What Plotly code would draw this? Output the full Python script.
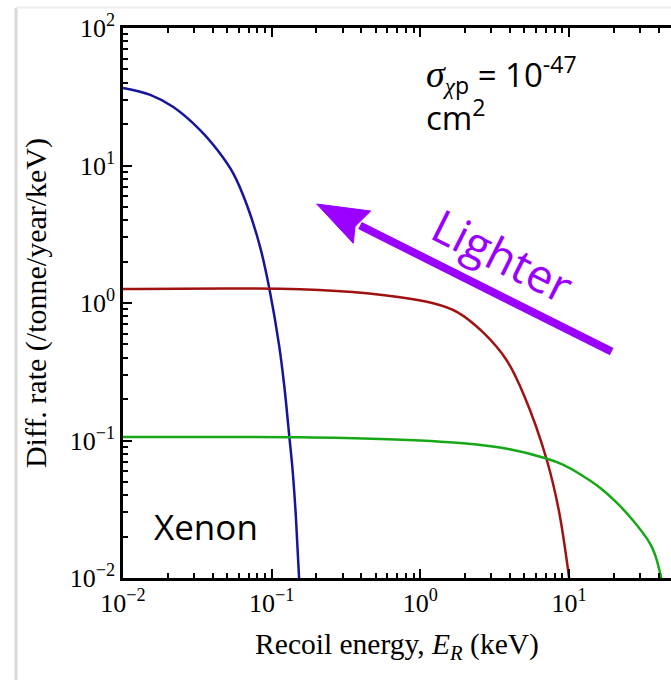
import plotly.graph_objects as go

# ---- data ----
blue_E = [0.01, 0.01525, 0.0218, 0.033, 0.043, 0.0551, 0.0684, 0.0836, 0.0966, 0.1122, 0.1216,
          0.1315, 0.138, 0.1445, 0.1489, 0.1528]
blue_R = [36.6, 32.6, 26.6, 18.1, 13.0, 8.77, 5.1, 2.55, 1.26, 0.49, 0.247,
          0.1054, 0.062, 0.031, 0.017, 0.01]

red_E = [0.01, 0.155, 0.4355, 1.219, 1.78, 2.63, 3.79, 5.01, 7.03, 8.51, 10.0]
red_R = [1.265, 1.26, 1.176, 0.995, 0.855, 0.613, 0.385, 0.209, 0.074, 0.0313, 0.01]

green_E = [0.01, 0.155, 0.535, 1.94, 3.99, 7.03, 9.0, 12.0, 16.2, 20.8, 26.9, 33.7, 36.0, 38.2, 41.7]
green_R = [0.106, 0.1055, 0.1026, 0.0955, 0.0863, 0.074, 0.067, 0.0564, 0.0452, 0.0355, 0.0262, 0.019, 0.01676, 0.0143, 0.01]

x_tickvals = [0.01, 0.1, 1, 10]
x_ticktext = ["10<sup>−2</sup>", "10<sup>−1</sup>", "10<sup>0</sup>", "10<sup>1</sup>"]
y_tickvals = [0.01, 0.1, 1, 10, 100]
y_ticktext = ["10<sup>−2</sup>", "10<sup>−1</sup>", "10<sup>0</sup>", "10<sup>1</sup>", "10<sup>2</sup>"]

minor_x = [k * 10.0 ** n for n in range(-2, 2) for k in range(2, 10)]
minor_y = [k * 10.0 ** n for n in range(-2, 2) for k in range(2, 10)]

W, H = 671, 680
L, R, T, B = 123, 0, 28, 102
PW, PH = W - L - R, H - T - B


def px(xp):
    return (xp - L) / PW


def py(yp):
    return (H - B - yp) / PH


serif = "Liberation Serif"
sans = "Open Sans"
purple = "#9a00ff"

fig = go.Figure()
line_style = dict(width=2.5, shape="spline", smoothing=1.0)
fig.add_trace(go.Scatter(x=blue_E, y=blue_R, mode="lines", line=dict(color="#15159c", **line_style), showlegend=False))
fig.add_trace(go.Scatter(x=red_E, y=red_R, mode="lines", line=dict(color="#a01212", **line_style), showlegend=False))
fig.add_trace(go.Scatter(x=green_E, y=green_R, mode="lines", line=dict(color="#16a816", **line_style), showlegend=False))

axis_common = dict(
    type="log", showgrid=False, zeroline=False, showline=True, linecolor="black", linewidth=2.5,
    ticks="inside", ticklen=9, tickwidth=2, tickcolor="black",
    tickfont=dict(family=serif, size=26, color="black"),
)

fig.update_xaxes(
    **axis_common, range=[-2, 1.685], mirror="ticks",
    tickmode="array", tickvals=x_tickvals, ticktext=x_ticktext,
    minor=dict(tickmode="array", tickvals=minor_x, ticks="inside", ticklen=5, tickwidth=1.5, tickcolor="black"),
    title=dict(text="Recoil energy, <i>E<sub>R</sub></i> (keV)", font=dict(family=serif, size=29.5, color="black"), standoff=17),
)
fig.update_yaxes(
    **axis_common, range=[-2, 2], mirror=False,
    tickmode="array", tickvals=y_tickvals, ticktext=y_ticktext,
    minor=dict(tickmode="array", tickvals=minor_y, ticks="inside", ticklen=5, tickwidth=1.5, tickcolor="black"),
    title=dict(text="Diff. rate (/tonne/year/keV)", font=dict(family=serif, size=30, color="black"), standoff=15),
)

# Frame shadow edges
fig.add_shape(type="line", xref="paper", yref="paper", x0=px(16), x1=px(16), y0=py(8), y1=py(H + 5),
              line=dict(color="#d9d9d9", width=3), layer="below")
fig.add_shape(type="line", xref="paper", yref="paper", x0=px(16), x1=px(W + 5), y0=py(7.5), y1=py(7.5),
              line=dict(color="#ececec", width=2), layer="below")

# Arrow "Lighter"
tip = (316.7, 204.0)
tail = (611.7, 351.7)
fig.add_shape(type="line", xref="paper", yref="paper", x0=px(tail[0]), y0=py(tail[1]), x1=px(360), y1=py(225.5),
              line=dict(color=purple, width=8))
head = [tip, (370.7, 211.0), (355.0, 226.5), (353.3, 243.3)]
path = "M " + " L ".join(f"{px(a):.5f},{py(b):.5f}" for a, b in head) + " Z"
fig.add_shape(type="path", xref="paper", yref="paper", path=path, fillcolor=purple, line=dict(color=purple, width=1))

fig.add_annotation(xref="paper", yref="paper", x=px(503), y=py(255), text="Lighter", showarrow=False,
                   textangle=26.6, font=dict(family=sans, size=46, color=purple), xanchor="center", yanchor="middle")

fig.add_annotation(xref="paper", yref="paper", x=px(206), y=py(526), text="Xenon", showarrow=False,
                   font=dict(family=sans, size=35, color="black"), xanchor="center", yanchor="middle")

# sigma_chi p = 10^-47 cm^2
sigma_text = ("<span style='font-family:Liberation Serif;font-size:38px'><i>σ</i></span>"
              "<sub><span style='font-family:Liberation Serif'><i>χ</i></span>p</sub> = 10<sup>-47</sup>"
              "<br>cm<sup>2</sup>")
fig.add_annotation(xref="paper", yref="paper", x=px(424), y=py(142), xanchor="left", yanchor="bottom",
                   align="left", showarrow=False, text=sigma_text, font=dict(family=sans, size=33, color="black"))

fig.update_layout(
    width=W, height=H, margin=dict(l=L, r=R, t=T, b=B),
    paper_bgcolor="white", plot_bgcolor="white",
)

fig.write_html("out.html")
